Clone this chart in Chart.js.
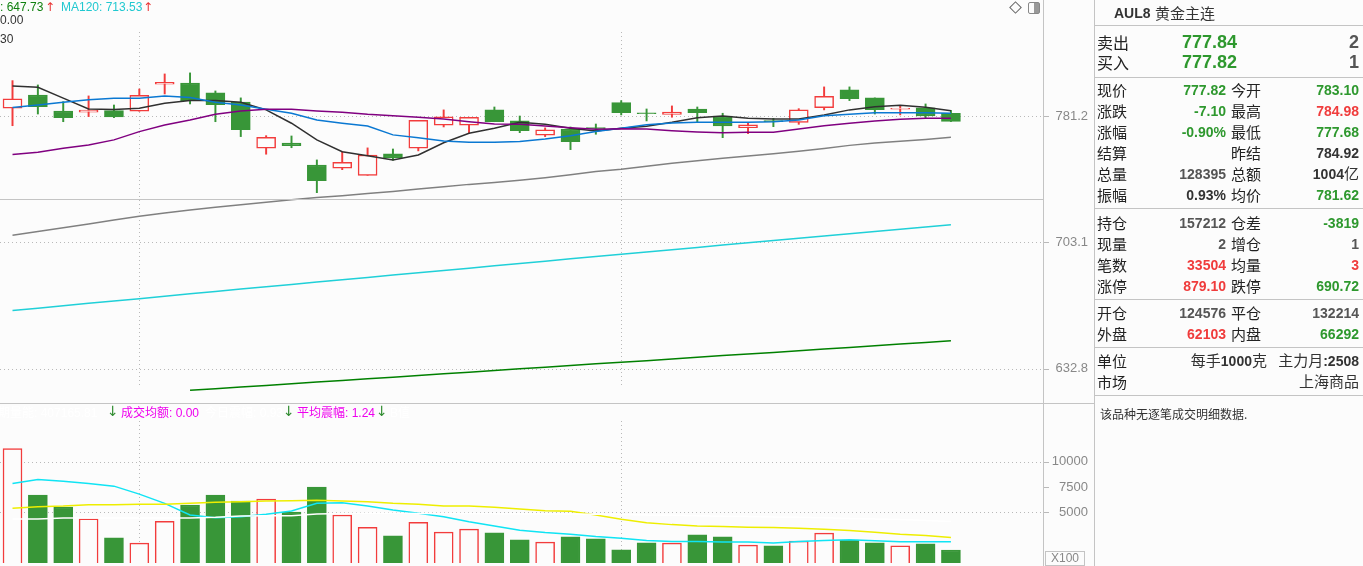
<!DOCTYPE html>
<html lang="zh-CN">
<head>
<meta charset="utf-8">
<title>AUL8 黄金主连</title>
<script src="https://cdn.jsdelivr.net/npm/chart.js@4.4.1/dist/chart.umd.min.js"></script>
<style>
  html, body { margin: 0; padding: 0; background: #fcfcfc; overflow: hidden; }
  #board { position: relative; width: 1363px; height: 566px; background: #fcfcfc; overflow: hidden;
           font-family: "Liberation Sans", Arial, "Noto Sans CJK SC", sans-serif; }
  canvas { position: absolute; left: 0; }
  #priceCanvas { top: 0; }
  #volCanvas { top: 404px; }
  .line { position: absolute; background: #c4c4c4; }
  .t { position: absolute; white-space: nowrap; line-height: 15px; height: 15px; font-size: 12px; }
  .cjk { font-family: "Noto Sans CJK SC", sans-serif; }
  #quote { position: absolute; left: 1095px; top: 0; width: 268px; height: 566px; color: #222; }
  .row { position: absolute; left: 0; width: 268px; height: 21px; line-height: 21px; }
  .row span { position: absolute; top: 0; white-space: nowrap; }
  .lab { font-family: "Noto Sans CJK SC", sans-serif; font-size: 15px; color: #222; }
  .val { font-family: "Liberation Sans", "Noto Sans CJK SC", sans-serif; font-size: 15px; }
  .val b { font-family: "Liberation Sans", sans-serif; font-size: 14px; }
  .g { color: #2e982e; } .r { color: #f03c3c; } .n { color: #555; } .k { color: #333; }
</style>
</head>
<body>
<div id="board">
  <canvas id="priceCanvas" width="1088" height="404"></canvas>
  <canvas id="volCanvas" width="1088" height="162"></canvas>

  <!-- pane frames -->
  <div class="line" style="left:0;top:199px;width:1043px;height:1px"></div>
  <div class="line" style="left:0;top:403px;width:1094px;height:1px"></div>
  <div class="line" style="left:1043px;top:0;width:1px;height:566px"></div>
  <div class="line" style="left:1094px;top:0;width:1px;height:566px"></div>

  <!-- price pane legend -->
  <div class="t" style="left:0;top:13px;color:#333">0.00</div>
  <div class="t" style="left:0;top:32px;color:#333">30</div>

  <!-- corner icons -->
  <div style="position:absolute;left:1011px;top:3px;width:7px;height:7px;border:1px solid #666;transform:rotate(45deg)"></div>
  <div style="position:absolute;left:1028px;top:2px;width:10px;height:10px;border:1px solid #888;border-radius:2px;background:linear-gradient(90deg,#fcfcfc 50%,#999 50%)"></div>

  <div class="t" style="left:1045px;top:551px;width:38px;height:13px;line-height:13px;border:1px solid #c4c4c4;color:#888;text-align:center">X100</div>

  <div id="quote"></div>
</div>

<script>
// ---- daily candles (oldest -> today) ----
const categories = ['1','2','3','4','5','6','7','8','9','10','11','12','13','14','15','16','17','18','19',
                    '20','21','22','23','24','25','26','27','28','29','30','31','32','33','34','35','36','37','38'];
const opens  = [786.4, 795.1, 784.6, 783.8, 784.8, 784.4, 802.3, 803.1, 796.5, 790.5, 760.6, 763.9, 750.0, 748.0, 743.6, 757.0, 760.6, 775.3, 775.3,
                785.3, 778.1, 768.9, 772.9, 773.7, 790.1, 783.3, 782.4, 785.9, 781.3, 773.7, 778.1, 777.2, 786.8, 798.5, 793.2, 785.7, 786.6, 783.10];
const highs  = [804.7, 801.8, 790.7, 794.5, 788.5, 799.1, 809.2, 809.9, 797.8, 793.2, 768.6, 768.4, 753.2, 758.4, 760.8, 760.1, 778.5, 785.3, 780.5,
                787.2, 781.3, 773.6, 774.2, 776.1, 791.4, 785.9, 787.9, 787.2, 783.1, 777.2, 779.8, 786.1, 800.5, 800.5, 793.2, 788.1, 789.2, 784.98];
const lows   = [775.0, 782.6, 777.6, 780.9, 780.2, 784.4, 795.8, 789.2, 777.6, 768.0, 756.8, 760.9, 732.9, 747.1, 743.6, 753.0, 758.9, 774.2, 770.1,
                777.6, 770.5, 768.0, 759.7, 769.5, 782.0, 778.1, 780.5, 777.2, 767.3, 769.9, 774.4, 775.9, 785.3, 791.4, 782.6, 782.0, 779.8, 777.68];
const closes = [792.5, 787.4, 780.2, 785.1, 780.7, 794.9, 803.6, 791.4, 788.7, 772.5, 767.6, 762.2, 740.3, 751.7, 756.3, 754.4, 778.5, 780.7, 780.5,
                777.6, 771.8, 772.3, 764.8, 773.1, 783.5, 782.8, 783.8, 783.5, 774.8, 775.5, 777.6, 785.3, 794.3, 792.7, 785.5, 786.1, 781.3, 777.82];

// ---- moving averages ----
const ma5   = [801.1, 800.3, 793.0, 785.9, 785.5, 786.4, 789.7, 791.4, 791.4, 790.3, 785.3, 776.6, 765.9, 758.4, 755.9, 753.2, 756.3, 764.1, 770.1,
               773.4, 777.2, 775.9, 773.4, 771.6, 773.4, 774.7, 777.2, 780.2, 781.3, 779.8, 779.4, 779.4, 782.0, 785.3, 787.4, 788.3, 787.0, 784.8];
const ma10  = [786.9, 788.5, 790.3, 792.0, 793.0, 793.0, 794.5, 793.4, 790.3, 788.5, 785.7, 783.1, 778.7, 776.6, 774.8, 769.1, 767.3, 765.2, 764.4,
               764.4, 764.8, 766.5, 768.6, 771.2, 773.4, 775.7, 776.8, 777.2, 777.2, 777.2, 777.6, 778.7, 781.5, 782.4, 783.5, 783.5, 783.5, 783.09];
const ma20  = [756.6, 758.0, 760.6, 762.7, 765.9, 771.2, 775.5, 778.7, 782.4, 784.6, 785.7, 785.7, 784.6, 783.8, 782.4, 781.5, 780.5, 779.4, 777.6,
               776.1, 775.9, 774.8, 773.7, 772.7, 773.1, 772.9, 771.8, 771.0, 770.5, 770.8, 770.8, 772.9, 775.0, 776.6, 778.1, 779.2, 779.8, 779.8];
const ma60  = [707.3, 709.5, 711.8, 714.0, 716.4, 718.6, 720.6, 722.4, 724.1, 725.6, 727.1, 728.6, 729.9, 731.1, 732.4, 733.6, 735.1, 736.5, 738.0,
               739.1, 740.5, 742.1, 743.9, 745.9, 747.4, 749.3, 751.1, 752.7, 754.3, 755.7, 757.1, 758.6, 760.4, 762.4, 763.9, 765.0, 766.2, 767.6];
const ma120 = [664.3, 665.6, 666.9, 668.3, 669.6, 670.9, 672.3, 673.6, 674.9, 676.3, 677.6, 678.9, 680.3, 681.6, 682.9, 684.3, 685.6, 686.9, 688.2,
               689.6, 690.9, 692.2, 693.6, 694.9, 696.2, 697.6, 698.9, 700.2, 701.6, 702.9, 704.2, 705.6, 706.9, 708.2, 709.5, 710.9, 712.2, 713.53];
const ma250 = [null, null, null, null, null, null, null, 621.6, 622.4, 623.3, 624.1, 625.0, 625.9, 626.7, 627.6, 628.4, 629.3, 630.2, 631.0,
               631.9, 632.8, 633.6, 634.5, 635.4, 636.3, 637.1, 638.0, 638.9, 639.8, 640.6, 641.5, 642.4, 643.3, 644.2, 645.1, 646.0, 646.8, 647.73];

// ---- volume pane (x100 lots) ----
const volumes   = [11275, 6696, 5520, 4343, 2480, 1961, 4118, 5716, 6696, 6108, 6304, 5030, 7480, 4735, 3529, 2677, 4020, 3039, 3333,
                   2971, 2284, 2059, 2578, 2382, 1304, 1990, 1961, 2775, 2578, 1765, 1696, 2157, 2941, 2255, 1990, 1696, 1892, 1284];
const volYellow = [5392, 5549, 5618, 5745, 5745, 5784, 5784, 5882, 5980, 6039, 6108, 6137, 6177, 6108, 6039, 5882, 5784, 5618, 5618,
                   5490, 5324, 5157, 5098, 4735, 4314, 3980, 3784, 3657, 3588, 3529, 3490, 3431, 3333, 3196, 3039, 2843, 2706, 2510];
const volCyan   = [7843, 8235, 8069, 7843, 7579, 6794, 5882, 4735, 4471, 4569, 4804, 5127, 5882, 5941, 5618, 5226, 4902, 4569, 4078,
                   3657, 3235, 3000, 2843, 2608, 2451, 2216, 2118, 2118, 2059, 2059, 1961, 2118, 2216, 2284, 2186, 2088, 2088, 2088];
const volWhite  = [4343, 4343, 4441, 4441, 4441, 4441, 4441, 4441, 4510, 4637, 4650, 4667, 4833, 4880, 4900, 4900, 4890, 4880, 4870,
                   4860, 4850, 4840, 4820, 4800, 4770, 4740, 4700, 4660, 4620, 4580, 4540, 4500, 4460, 4400, 4340, 4280, 4200, 4100];

const priceTicks = [632.8, 703.1, 781.2];
const volTicks = [5000, 7500, 10000];
const volGridValues = [5000, 10000];
const monthStarts = [5, 24];

// ---- quote board ----
const boardTitle = ['AUL8', '黄金主连'];
const bidAsk = [['卖出', '777.84', '2'], ['买入', '777.82', '1']];
const quoteA = [['现价', '777.82', '今开', '783.10'], ['涨跌', '-7.10', '最高', '784.98'], ['涨幅', '-0.90%', '最低', '777.68'],
                ['结算', '', '昨结', '784.92'], ['总量', '128395', '总额', '1004亿'], ['振幅', '0.93%', '均价', '781.62']];
const quoteB = [['持仓', '157212', '仓差', '-3819'], ['现量', '2', '增仓', '1'], ['笔数', '33504', '均量', '3'], ['涨停', '879.10', '跌停', '690.72']];
const quoteC = [['开仓', '124576', '平仓', '132214'], ['外盘', '62103', '内盘', '66292']];
const quoteD = [['单位', '每手1000克', '主力月:2508'], ['市场', '', '上海商品']];
const toneA = [['g', 'g'], ['g', 'r'], ['g', 'g'], ['k', 'k'], ['n', 'k'], ['k', 'g']];
const toneB = [['n', 'g'], ['n', 'n'], ['r', 'r'], ['r', 'g']];
const toneC = [['n', 'n'], ['r', 'g']];
const noteText = '该品种无逐笔成交明细数据.';

const RED = '#f23c3c', GREEN = '#389638', BG = '#fcfcfc';
const X_MIN = -0.493, X_MAX = 40.63;

const isUp = closes.map((c, i) => c >= opens[i]);
const candleColor = isUp.map(u => u ? RED : GREEN);
const pts = arr => arr.map((v, i) => ({ x: i, y: v }));

// dotted grid, month markers and outside tick marks
const paneGrid = {
  id: 'paneGrid',
  beforeDatasetsDraw(chart, args, opts) {
    const { ctx, chartArea: area, scales: { x, y } } = chart;
    ctx.save();
    ctx.strokeStyle = '#b9b9b9';
    ctx.lineWidth = 1;
    ctx.setLineDash([1, 3]);
    opts.grid.forEach(v => {
      const py = Math.round(y.getPixelForValue(v)) + 0.5;
      ctx.beginPath(); ctx.moveTo(area.left, py); ctx.lineTo(area.right, py); ctx.stroke();
    });
    monthStarts.forEach(i => {
      const px = Math.round(x.getPixelForValue(i)) + 0.5;
      ctx.beginPath(); ctx.moveTo(px, opts.vTop); ctx.lineTo(px, opts.vBottom); ctx.stroke();
    });
    ctx.setLineDash([]);
    y.ticks.forEach(t => {
      const py = Math.round(y.getPixelForValue(t.value)) + 0.5;
      ctx.beginPath(); ctx.moveTo(area.right, py); ctx.lineTo(area.right + 6, py); ctx.stroke();
    });
    ctx.restore();
  }
};

function maLine(label, data, color) {
  return { type: 'line', label: label, data: pts(data), borderColor: color, borderWidth: 1.5,
           pointRadius: 0, tension: 0, spanGaps: false, order: 1 };
}

const tickFont = { family: 'Liberation Sans', size: 13 };

new Chart(document.getElementById('priceCanvas'), {
  type: 'bar',
  data: {
    labels: categories,
    datasets: [
      { label: 'wick', data: lows.map((l, i) => ({ x: i, y: [l, highs[i]] })), backgroundColor: candleColor,
        barThickness: 1.3, grouped: false, minBarLength: 1, order: 3 },
      { label: 'body', data: opens.map((o, i) => ({ x: i, y: [o, closes[i]] })),
        backgroundColor: isUp.map(u => u ? BG : GREEN), borderColor: candleColor, borderWidth: 1.5,
        borderSkipped: false, barThickness: 19, grouped: false, minBarLength: 1, order: 2 },
      maLine('MA250', ma250, '#008000'),
      maLine('MA120', ma120, '#20d0d8'),
      maLine('MA60', ma60, '#808080'),
      maLine('MA20', ma20, '#800080'),
      maLine('MA10', ma10, '#0a78d2'),
      maLine('MA5', ma5, '#303030')
    ]
  },
  options: {
    responsive: false,
    animation: false,
    events: [],
    layout: { padding: { top: 30, bottom: 1, left: 0, right: 0 } },
    plugins: {
      legend: { display: false },
      tooltip: { enabled: false },
      paneGrid: { grid: priceTicks, vTop: 32, vBottom: 388 }
    },
    scales: {
      x: { type: 'linear', min: X_MIN, max: X_MAX, display: false, offset: false, bounds: 'data', grid: { display: false } },
      y: {
        type: 'logarithmic', position: 'right', min: 615.0, max: 839.4, bounds: 'data', beginAtZero: false,
        border: { display: false }, grid: { display: false, drawTicks: false },
        ticks: { color: '#888', font: tickFont, crossAlign: 'far', padding: 0, callback: v => Number(v).toFixed(1) },
        afterBuildTicks: s => { s.ticks = priceTicks.map(v => ({ value: v })); },
        afterFit: s => { s.width = 45; s.paddingTop = 0; s.paddingBottom = 0; }
      }
    }
  },
  plugins: [paneGrid]
});

new Chart(document.getElementById('volCanvas'), {
  type: 'bar',
  data: {
    labels: categories,
    datasets: [
      { label: 'VOL', data: pts(volumes), backgroundColor: isUp.map(u => u ? BG : GREEN), borderColor: candleColor,
        borderWidth: 1.5, barThickness: 19, grouped: false, order: 2 },
      { type: 'line', label: 'VMA-W', data: pts(volWhite), borderColor: '#ffffff', borderWidth: 1.5, pointRadius: 0, order: 1 },
      { type: 'line', label: 'VMA-Y', data: pts(volYellow), borderColor: '#eeee00', borderWidth: 1.5, pointRadius: 0, order: 1 },
      { type: 'line', label: 'VMA-C', data: pts(volCyan), borderColor: '#10e4f4', borderWidth: 1.5, pointRadius: 0, order: 1 }
    ]
  },
  options: {
    responsive: false,
    animation: false,
    events: [],
    layout: { padding: { top: 16, bottom: 3, left: 0, right: 0 } },
    plugins: {
      legend: { display: false },
      tooltip: { enabled: false },
      paneGrid: { grid: volGridValues, vTop: 17, vBottom: 159 }
    },
    scales: {
      x: { type: 'linear', min: X_MIN, max: X_MAX, display: false, offset: false, bounds: 'data', grid: { display: false } },
      y: {
        type: 'linear', position: 'right', min: 0, max: 14100, bounds: 'data',
        border: { display: false }, grid: { display: false, drawTicks: false },
        ticks: { color: '#888', font: tickFont, crossAlign: 'far', padding: 0, callback: v => String(v) },
        afterBuildTicks: s => { s.ticks = volTicks.map(v => ({ value: v })); },
        afterFit: s => { s.width = 45; s.paddingTop = 0; s.paddingBottom = 0; }
      }
    }
  },
  plugins: [paneGrid]
});

// ---- legends ----
function addText(parent, left, top, html, style) {
  const d = document.createElement('div');
  d.className = 't';
  d.style.left = left + 'px';
  d.style.top = top + 'px';
  if (style) d.style.cssText += style;
  d.innerHTML = html;
  parent.appendChild(d);
  return d;
}
const board = document.getElementById('board');
addText(board, 0, 0, ': ' + ma250[ma250.length - 1].toFixed(2), 'color:#108010');
addText(board, 45, 0, '↑', 'color:#e83030;font-family:DejaVu Sans;font-size:12px');
addText(board, 61, 0, 'MA120: ' + ma120[ma120.length - 1].toFixed(2), 'color:#20c8d0');
addText(board, 143, 0, '↑', 'color:#e83030;font-family:DejaVu Sans;font-size:12px');

const volLegendTop = 404;
addText(board, -2, volLegendTop, '<span class="cjk">期量能</span>: 407165.81', 'color:#ffffff');
addText(board, 107, volLegendTop, '↓', 'color:#2e8b2e;font-family:DejaVu Sans;font-size:14px');
addText(board, 121, volLegendTop, '<span class="cjk">成交均额</span>: 0.00', 'color:#ee00ee');
addText(board, 205, volLegendTop, '<span class="cjk">今日震幅</span>: 0.93', 'color:#ffffff');
addText(board, 283, volLegendTop, '↓', 'color:#2e8b2e;font-family:DejaVu Sans;font-size:14px');
addText(board, 297, volLegendTop, '<span class="cjk">平均震幅</span>: 1.24', 'color:#ee00ee');
addText(board, 376, volLegendTop, '↓', 'color:#2e8b2e;font-family:DejaVu Sans;font-size:14px');
addText(board, 390, volLegendTop, 'B<span class="cjk">值</span>', 'color:#ffffff');

// ---- quote board ----
const quote = document.getElementById('quote');
const boldDigits = s => s.replace(/([0-9.:%\-]+)/g, '<b>$1</b>');

[25, 77, 208, 299, 347, 395].forEach(y => {
  const d = document.createElement('div');
  d.className = 'line';
  d.style.cssText = 'left:0;top:' + y + 'px;width:268px;height:1px';
  quote.appendChild(d);
});

function addRow(top, cells) {
  const row = document.createElement('div');
  row.className = 'row';
  row.style.top = top + 'px';
  cells.forEach(c => {
    const s = document.createElement('span');
    s.className = c.cls;
    if (c.left !== undefined) s.style.left = c.left + 'px';
    if (c.right !== undefined) s.style.right = c.right + 'px';
    if (c.style) s.style.cssText += c.style;
    s.innerHTML = c.html;
    row.appendChild(s);
  });
  quote.appendChild(row);
}

addRow(2, [{ cls: 'k', left: 19, html: '<b style="font-family:Liberation Sans;font-size:14px">' + boardTitle[0] +
  '</b>&nbsp;<span class="cjk" style="font-size:15px">' + boardTitle[1] + '</span>' }]);

bidAsk.forEach((r, k) => {
  addRow(31.5 + k * 20.5, [
    { cls: 'lab', left: 2, html: r[0], style: 'font-size:16px' },
    { cls: 'g', right: 126, html: r[1], style: 'font-weight:bold;font-size:18px;font-family:Liberation Sans' },
    { cls: 'n', right: 4, html: r[2], style: 'font-weight:bold;font-size:18px;font-family:Liberation Sans' }
  ]);
});

function addSection(top, rows, tones) {
  rows.forEach((r, k) => {
    addRow(top + k * 21, [
      { cls: 'lab', left: 2, html: r[0] },
      { cls: 'val ' + tones[k][0], right: 137, html: boldDigits(r[1]) },
      { cls: 'lab', left: 136, html: r[2] },
      { cls: 'val ' + tones[k][1], right: 4, html: boldDigits(r[3]) }
    ]);
  });
}
addSection(79, quoteA, toneA);
addSection(211.5, quoteB, toneB);
addSection(302, quoteC, toneC);

quoteD.forEach((r, k) => {
  addRow(349.5 + k * 21, [
    { cls: 'lab', left: 2, html: r[0] },
    { cls: 'val k', right: 96, html: boldDigits(r[1]) },
    { cls: 'val k', right: 4, html: boldDigits(r[2]) }
  ]);
});

addRow(403, [{ cls: 'cjk k', left: 5, html: noteText, style: 'font-size:12px' }]);
</script>
</body>
</html>
